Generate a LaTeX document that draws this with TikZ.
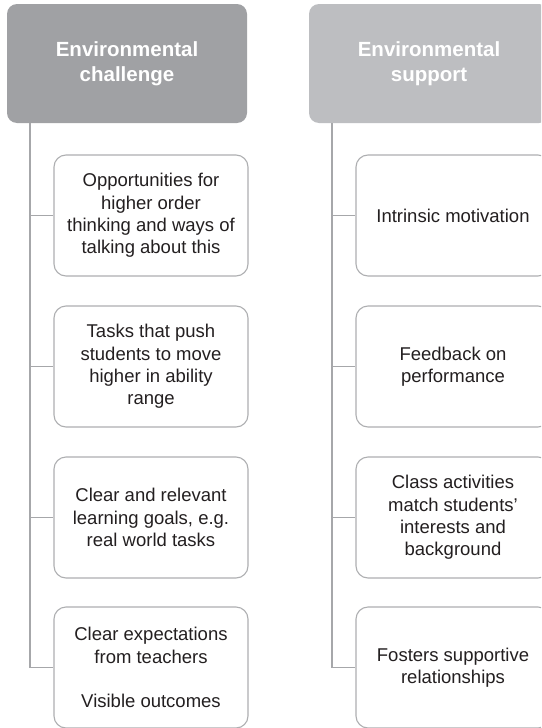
\documentclass[tikz,border=0pt]{standalone}
\usepackage{fontspec}
\setmainfont{Liberation Sans}
\definecolor{hdark}{HTML}{A0A1A4}
\definecolor{hlight}{HTML}{BDBEC1}
\definecolor{linec}{HTML}{A6A7AA}
\definecolor{boxc}{HTML}{AEAFB1}
\definecolor{txt}{HTML}{231F20}
\begin{document}
\begin{tikzpicture}[x=1pt,y=-1pt,
  header/.style={rounded corners=10pt, minimum width=240pt, minimum height=119pt,
    inner sep=0pt, text=white, align=center,
    font=\fontsize{20.5}{25}\selectfont\bfseries},
  itembox/.style={draw=boxc, line width=1.1pt, rounded corners=12pt, fill=white,
    minimum width=194pt, minimum height=121pt, inner sep=0pt, align=center,
    text=txt, font=\fontsize{18.5}{22.2}\selectfont},
  conn/.style={draw=linec, line width=1.3pt}]
\clip (0,0) rectangle (541,728);
\fill[white] (0,0) rectangle (541,728);
% headers
\node[header, fill=hdark] (hl) at (127,63.5) {Environmental\\challenge};
\node[header, fill=hlight] (hr) at (429,63.5) {Environmental\\support};
% trunk coordinates
\coordinate (tl) at (30,0);
\coordinate (tr) at (332,0);
% left boxes
\node[itembox] (l1) at (151,215.5) {Opportunities for\\higher order\\thinking and ways of\\talking about this};
\node[itembox] (l2) at (151,366.5) {Tasks that push\\students to move\\higher in ability\\range};
\node[itembox] (l3) at (151,517.5) {Clear and relevant\\learning goals, e.g.\\real world tasks};
\node[itembox] (l4) at (151,667.5) {Clear expectations\\from teachers\\[22.2pt]Visible outcomes};
% right boxes
\node[itembox] (r1) at (453,215.5) {Intrinsic motivation};
\node[itembox] (r2) at (453,366.5) {Feedback on\\performance};
\node[itembox] (r3) at (453,517.5) {Class activities\\match students’\\interests and\\background};
\node[itembox] (r4) at (453,667.5) {Fosters supportive\\relationships};
% connectors
\draw[conn] (tl |- hl.south) |- (l4.west);
\draw[conn] (tl |- l1.west) -- (l1.west);
\draw[conn] (tl |- l2.west) -- (l2.west);
\draw[conn] (tl |- l3.west) -- (l3.west);
\draw[conn] (tr |- hr.south) |- (r4.west);
\draw[conn] (tr |- r1.west) -- (r1.west);
\draw[conn] (tr |- r2.west) -- (r2.west);
\draw[conn] (tr |- r3.west) -- (r3.west);
\end{tikzpicture}
\end{document}
